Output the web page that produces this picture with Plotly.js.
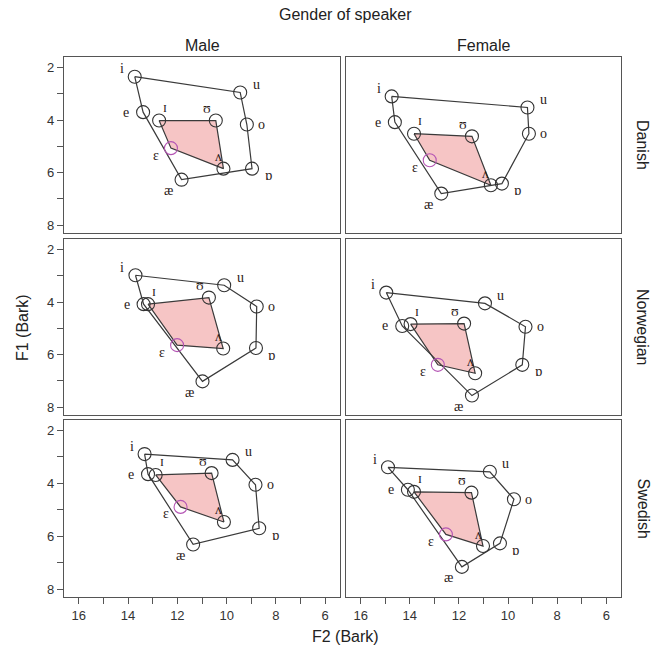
<!DOCTYPE html>
<html><head><meta charset="utf-8">
<script src="https://cdn.plot.ly/plotly-3.0.1.min.js"></script>
<style>html,body{margin:0;padding:0;background:#fff}</style>
</head><body><div id="chart" style="width:655px;height:656px"></div>
<script>
// ---- data ----
const vowels = ['i','u','o','ɒ','æ','e','ɪ','ʊ','ʌ','ɛ'];
const languages = ['Danish','Norwegian','Swedish'];
const genders = ['Male','Female'];

const danishMaleF2 = [13.73, 9.45, 9.18, 8.97, 11.83, 13.39, 12.74, 10.44, 10.13, 12.26];
const danishMaleF1 = [2.35, 2.95, 4.17, 5.85, 6.27, 3.70, 4.02, 4.02, 5.85, 5.07];
const danishFemaleF2 = [14.74, 9.21, 9.15, 10.25, 12.72, 14.61, 13.83, 11.47, 10.70, 13.19];
const danishFemaleF1 = [3.10, 3.52, 4.52, 6.42, 6.80, 4.08, 4.52, 4.62, 6.48, 5.53];
const norwegianMaleF2 = [13.70, 10.10, 8.78, 8.81, 10.98, 13.37, 13.19, 10.72, 10.14, 12.01];
const norwegianMaleF1 = [2.98, 3.36, 4.17, 5.75, 7.02, 4.08, 4.08, 3.83, 5.77, 5.64];
const norwegianFemaleF2 = [14.96, 10.94, 9.29, 9.42, 11.47, 14.31, 13.97, 11.79, 11.34, 12.86];
const norwegianFemaleF1 = [3.64, 4.05, 4.94, 6.39, 7.56, 4.91, 4.84, 4.82, 6.71, 6.39];
const swedishMaleF2 = [13.33, 9.76, 8.83, 8.68, 11.36, 13.19, 12.88, 10.61, 10.11, 11.87];
const swedishMaleF1 = [2.89, 3.11, 4.05, 5.70, 6.31, 3.65, 3.68, 3.61, 5.46, 4.89];
const swedishFemaleF2 = [14.89, 10.74, 9.76, 10.33, 11.88, 14.08, 13.83, 11.49, 11.02, 12.53];
const swedishFemaleF1 = [3.39, 3.56, 4.60, 6.27, 7.16, 4.24, 4.32, 4.35, 6.37, 5.93];

const outerOrder = ['i','u','o','ɒ','æ','e','i'];
const innerOrder = ['ɪ','ʊ','ʌ','ɛ','ɪ'];

// ---- styles ----
const panels = [
  [danishMaleF2, danishMaleF1], [danishFemaleF2, danishFemaleF1],
  [norwegianMaleF2, norwegianMaleF1], [norwegianFemaleF2, norwegianFemaleF1],
  [swedishMaleF2, swedishMaleF1], [swedishFemaleF2, swedishFemaleF1]
];
const labelShift = {
  'i':[-13,8], 'u':[16,8], 'o':[15,0], 'ɒ':[16,-7], 'æ':[-13,-11],
  'e':[-17,0], 'ɪ':[6,13], 'ʊ':[-9,12], 'ʌ':[-5,12], 'ɛ':[-15,-7]
};
const W = 655, H = 656;
const colPx = [[64,340],[346,621]];
const rowPx = [[57,233],[239,415],[420,597]];
const frame = '#555';
const labelFont = {family:'Liberation Serif, DejaVu Serif, serif', size:14, color:'#2b2018'};
const sansFont = 'Liberation Sans, Arial, sans-serif';

const traces = [];
const layout = {
  width: W, height: H, margin:{l:0,r:0,t:0,b:0},
  paper_bgcolor:'#fff', plot_bgcolor:'#fff', showlegend:false,
  font:{family:sansFont, color:'#222'},
  annotations: []
};

panels.forEach(([f2, f1], p) => {
  const r = Math.floor(p/2), c = p%2;
  const xa = 'x' + (p ? p+1 : ''), ya = 'y' + (p ? p+1 : '');
  const idx = v => vowels.indexOf(v);
  traces.push({
    type:'scatter', mode:'lines', xaxis:xa, yaxis:ya,
    x: innerOrder.map(v => f2[idx(v)]), y: innerOrder.map(v => f1[idx(v)]),
    fill:'toself', fillcolor:'rgba(238,150,150,0.55)',
    line:{color:'#3a3a3a', width:1.2}, hoverinfo:'skip'
  });
  traces.push({
    type:'scatter', mode:'lines', xaxis:xa, yaxis:ya,
    x: outerOrder.map(v => f2[idx(v)]), y: outerOrder.map(v => f1[idx(v)]),
    line:{color:'#3a3a3a', width:1.2}, hoverinfo:'skip'
  });
  traces.push({
    type:'scatter', mode:'markers', xaxis:xa, yaxis:ya,
    x: f2, y: f1,
    marker:{symbol:'circle-open', size:13,
      color: vowels.map(v => v === 'ɛ' ? '#b455b4' : '#333'),
      line:{width:1.1}}
  });
  vowels.forEach((v,i) => {
    layout.annotations.push({
      xref:xa, yref:ya, x:f2[i], y:f1[i], text:v, showarrow:false,
      xanchor:'center', yanchor:'middle',
      xshift:labelShift[v][0], yshift:labelShift[v][1], font:labelFont
    });
  });
  const xKey = 'xaxis' + (p ? p+1 : ''), yKey = 'yaxis' + (p ? p+1 : '');
  const bottom = r === 2, left = c === 0;
  layout[xKey] = {
    domain:[colPx[c][0]/W, colPx[c][1]/W], anchor:ya, range:[16.6,5.4],
    showgrid:false, zeroline:false, showline:true, mirror:true, linecolor:frame, linewidth:1.2,
    ticks: bottom ? 'outside' : '', ticklen:6, tickcolor:frame, tick0:6, dtick:2,
    showticklabels: bottom, tickfont:{size:13, color:'#333'},
    minor: bottom ? {ticks:'outside', dtick:1, tick0:5, ticklen:6, tickcolor:frame, showgrid:false} : undefined,
    fixedrange:true
  };
  layout[yKey] = {
    domain:[1-rowPx[r][1]/H, 1-rowPx[r][0]/H], anchor:xa, range:[8.3,1.6],
    showgrid:false, zeroline:false, showline:true, mirror:true, linecolor:frame, linewidth:1.2,
    ticks: left ? 'outside' : '', ticklen:6, tickcolor:frame, tick0:2, dtick:2,
    showticklabels: left, tickfont:{size:13, color:'#333'},
    minor: left ? {ticks:'outside', dtick:1, tick0:1, ticklen:6, tickcolor:frame, showgrid:false} : undefined,
    fixedrange:true
  };
});

// titles
const titleFont = {family:sansFont, size:16, color:'#222'};
const ann = (x, y, text, extra) => layout.annotations.push(Object.assign({
  xref:'paper', yref:'paper', x:x/W, y:1-y/H, text, showarrow:false,
  xanchor:'center', yanchor:'middle', font:titleFont}, extra || {}));
ann(345, 15, 'Gender of speaker');
genders.forEach((g,c) => ann((colPx[c][0]+colPx[c][1])/2, 45, g));
languages.forEach((l,r) => ann(643, (rowPx[r][0]+rowPx[r][1])/2, l, {textangle:90}));
ann(22, 328, 'F1 (Bark)', {textangle:-90});
ann(345, 636, 'F2 (Bark)');

Plotly.newPlot('chart', traces, layout, {displayModeBar:false, staticPlot:true});
</script></body></html>
